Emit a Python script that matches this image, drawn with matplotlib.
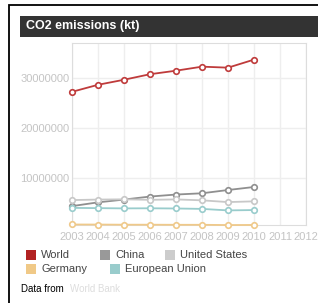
import numpy as np
import matplotlib
matplotlib.use('Agg')
import matplotlib.pyplot as plt
from matplotlib.patches import Rectangle

plt.rcParams['font.family'] = ['Liberation Sans', 'DejaVu Sans']

# CO2 emissions (kt)
years = [2003, 2004, 2005, 2006, 2007, 2008, 2009, 2010]
world = [27200000, 28600000, 29600000, 30700000, 31400000, 32200000, 32000000, 33600000]
china = [4500000, 5250000, 5800000, 6400000, 6800000, 7050000, 7700000, 8300000]
usa = [5700000, 5800000, 5850000, 5750000, 5830000, 5650000, 5300000, 5450000]
germany = [850000, 840000, 810000, 810000, 790000, 790000, 740000, 760000]
eu = [4150000, 4100000, 4050000, 4070000, 4030000, 3950000, 3650000, 3720000]

series_names = ['World', 'China', 'United States', 'Germany', 'European Union']
series_values = [world, china, usa, germany, eu]
series_colors = ['#b22222', '#999999', '#cccccc', '#f0c987', '#99cccc']
line_colors = ['#bf3b3b', '#8f8f8f', '#c8c8c8', '#efc98a', '#99cccc']

x_ticks = list(range(2003, 2013))
y_ticks = [10000000, 20000000, 30000000]

W, H = 318, 303
fig = plt.figure(figsize=(W / 100, H / 100), dpi=100)

def px(x, y, w, h):
    # pixel box (top-left origin) -> figure fraction
    return [x / W, 1 - (y + h) / H, w / W, h / H]

# outer black frame
fig.add_artist(Rectangle((9 / W, -0.1), 1.2, 1 - 5 / H + 0.1, transform=fig.transFigure,
                         fill=False, edgecolor='black', linewidth=1.3))
# title bar
fig.add_artist(Rectangle((20 / W, 1 - 37 / H), 1, 21 / H, transform=fig.transFigure,
                         facecolor='#333333', edgecolor='none'))
fig.text(26 / W, 1 - 26.5 / H, 'CO2 emissions (kt)', color='white', fontsize=9,
         fontweight='bold', va='center', ha='left')

ax = fig.add_axes(px(72, 43, 234, 182))
for vals, c in zip(series_values, line_colors):
    ax.plot(years, vals, '-o', color=c, linewidth=1.3, markersize=4,
            markerfacecolor='white', markeredgecolor=c, markeredgewidth=1.2,
            clip_on=False, zorder=3)

ax.set_xlim(2003, 2012)
ax.set_ylim(750000, 36900000)
ax.set_xticks(x_ticks)
ax.set_xticklabels([str(t) for t in x_ticks])
ax.set_yticks(y_ticks)
ax.set_yticklabels([str(t) for t in y_ticks])
ax.tick_params(length=0, colors='#c4c4c4', labelsize=8)
ax.tick_params(axis='x', pad=5)
ax.tick_params(axis='y', pad=2)
ax.grid(True, color='#eeeeee', linewidth=1)
for s in ax.spines.values():
    s.set_color('#dddddd')

# legend drawn by hand
leg_pos = [(26, 250), (100, 250), (165, 250), (26, 264), (110, 264)]
for name, c, (lx, ly) in zip(series_names, series_colors, leg_pos):
    fig.add_artist(Rectangle((lx / W, 1 - (ly + 10) / H), 10 / W, 10 / H,
                             transform=fig.transFigure, facecolor=c, edgecolor='none'))
    fig.text((lx + 15) / W, 1 - (ly + 5.5) / H, name, color='#444444', fontsize=8,
             va='center', ha='left')

t = fig.text(21 / W, 1 - 289.5 / H, 'Data from ', color='black', fontsize=7,
             va='center', ha='left')
fig.text(70 / W, 1 - 289.5 / H, 'World Bank', color='#dddddd', fontsize=7,
         va='center', ha='left')

fig.savefig('out.png', dpi=100)
